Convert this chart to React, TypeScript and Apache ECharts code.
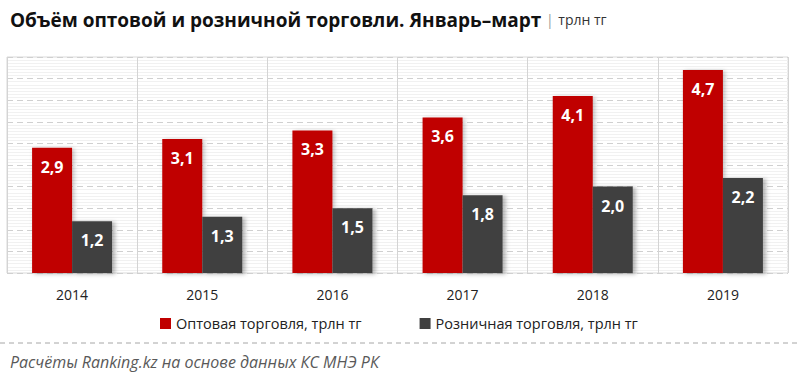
import React, { useEffect, useRef } from "react";
import * as echarts from "echarts";

const years = ["2014", "2015", "2016", "2017", "2018", "2019"];
const wholesale = [2.9, 3.1, 3.3, 3.6, 4.1, 4.7];
const retail = [1.2, 1.3, 1.5, 1.8, 2.0, 2.2];
const seriesNames = ["Оптовая торговля, трлн тг", "Розничная торговля, трлн тг"];
const titleMain = "Объём оптовой и розничной торговли. Январь–март";
const titleUnit = "трлн тг";
const footer = "Расчёты Ranking.kz на основе данных КС МНЭ РК";

const FONT = "'Open Sans', 'Noto Sans', sans-serif";

export default function App() {
  const ref = useRef<HTMLDivElement>(null);
  useEffect(() => {
    if (!ref.current) return;
    const chart = echarts.init(ref.current, null, { renderer: "svg" });
    const fmt = (p: any) => Number(p.value).toFixed(1).replace(".", ",");
    const label = {
      show: true,
      position: "insideTop" as const,
      distance: 11,
      color: "#fff",
      fontFamily: FONT,
      fontWeight: "bold" as const,
      fontSize: 16,
      formatter: fmt,
    };
    chart.setOption({
      animation: false,
      backgroundColor: "#fff",
      textStyle: { fontFamily: FONT },
      title: {
        text: "{b|" + titleMain + "} {p||} {u|" + titleUnit + "}",
        left: 5,
        top: 5,
        textStyle: {
          rich: {
            b: { fontFamily: FONT, fontWeight: "bold", fontSize: 19, color: "#111" },
            p: { fontFamily: FONT, fontWeight: "normal", fontSize: 14, color: "#999" },
            u: { fontFamily: FONT, fontWeight: "normal", fontSize: 14, color: "#333" },
          },
        },
      },
      legend: {
        data: seriesNames,
        left: 155,
        top: 311,
        icon: "rect",
        itemWidth: 11,
        itemHeight: 11,
        itemGap: 58,
        textStyle: { fontFamily: FONT, fontSize: 14.5, color: "#222" },
      },
      grid: { left: 7, right: 12, top: 57, bottom: 103, show: true, borderColor: "#d9d9d9", borderWidth: 1, backgroundColor: "#fff" },
      xAxis: {
        type: "category",
        data: years,
        axisLine: { show: false },
        axisTick: { show: false },
        axisLabel: { color: "#222", fontSize: 14, fontFamily: FONT, margin: 14 },
        splitLine: { show: true, lineStyle: { color: "#d4d4d4", width: 1 } },
      },
      yAxis: {
        type: "value",
        min: 0,
        max: 5,
        interval: 0.5,
        axisLabel: { show: false },
        axisLine: { show: false },
        axisTick: { show: false },
        splitLine: { show: true, lineStyle: { color: "#d0d0d0", type: [6, 4] } },
        minorTick: { show: false, splitNumber: 7 },
        minorSplitLine: { show: true, lineStyle: { color: "#f1f1f1", width: 1 } },
      },
      series: [
        {
          name: seriesNames[0],
          type: "bar",
          data: wholesale,
          barWidth: 40,
          barGap: "0%",
          itemStyle: { color: "#C00000", shadowColor: "rgba(0,0,0,0.25)", shadowBlur: 4, shadowOffsetX: 2, shadowOffsetY: 1 },
          label,
        },
        {
          name: seriesNames[1],
          type: "bar",
          data: retail,
          barWidth: 40,
          itemStyle: { color: "#404040", shadowColor: "rgba(0,0,0,0.3)", shadowBlur: 4, shadowOffsetX: 3, shadowOffsetY: 1 },
          label,
        },
      ],
      graphic: [
        {
          type: "line",
          shape: { x1: 0, y1: 343, x2: 800, y2: 343 },
          style: { stroke: "#a6a6a6", lineWidth: 1, lineDash: [5, 4] },
        },
        {
          type: "text",
          left: 10,
          top: 354,
          style: { text: footer, fontFamily: FONT, fontStyle: "italic", fontSize: 16, fill: "#595959" },
        },
      ],
    });
    return () => chart.dispose();
  }, []);
  return <div ref={ref} style={{ position: "fixed", left: 0, top: 0, width: 800, height: 376 }} />;
}
